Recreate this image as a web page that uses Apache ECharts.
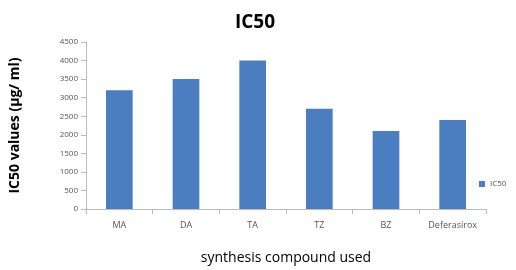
<!DOCTYPE html>
<html><head><meta charset="utf-8">
<script src="https://cdn.jsdelivr.net/npm/echarts@6/dist/echarts.min.js"></script>
<style>html,body{margin:0;padding:0;background:#fff}#c{width:516px;height:270px}</style>
</head><body><div id="c"></div>
<script>
const categories = ["MA","DA","TA","TZ","BZ","Deferasirox"];
const ic50Values = [3200,3500,4000,2700,2100,2400];
const seriesName = "IC50";
const F = "'Open Sans',sans-serif";
const chart = echarts.init(document.getElementById('c'));
chart.setOption({
  animation:false,
  title:{text:"IC50",left:250,top:8,textAlign:'center',textStyle:{fontFamily:F,fontSize:19,fontWeight:'bold',color:'#000'}},
  legend:{data:[seriesName],orient:'vertical',left:474,top:175,itemWidth:6,itemHeight:6,itemGap:4,
    textStyle:{fontSize:8,color:'#555',fontFamily:F},icon:'rect'},
  grid:{left:86,right:30,top:42,bottom:60,containLabel:false},
  xAxis:{type:'category',data:categories,name:'synthesis compound used',nameLocation:'middle',nameGap:42,
    nameTextStyle:{fontFamily:F,fontSize:14,color:'#000'},
    axisLine:{lineStyle:{color:'#bbb'}},axisTick:{show:true,lineStyle:{color:'#bbb'}},
    axisLabel:{fontSize:9,color:'#555',margin:12,fontFamily:F,interval:0}},
  yAxis:{type:'value',min:0,max:4500,interval:500,name:'IC50 values (µg/ ml)',nameLocation:'middle',nameGap:64,
    nameTextStyle:{fontFamily:F,fontSize:14,fontWeight:'bold',color:'#000'},
    axisLine:{show:true,lineStyle:{color:'#bbb'}},axisTick:{show:true,lineStyle:{color:'#bbb'}},
    splitLine:{show:false},
    axisLabel:{fontSize:8,color:'#555',fontFamily:F,formatter:function(v){return String(v);}}},
  series:[{name:seriesName,type:'bar',data:ic50Values,barWidth:'40%',itemStyle:{color:'#4A7EC1'}}]
});
</script></body></html>
